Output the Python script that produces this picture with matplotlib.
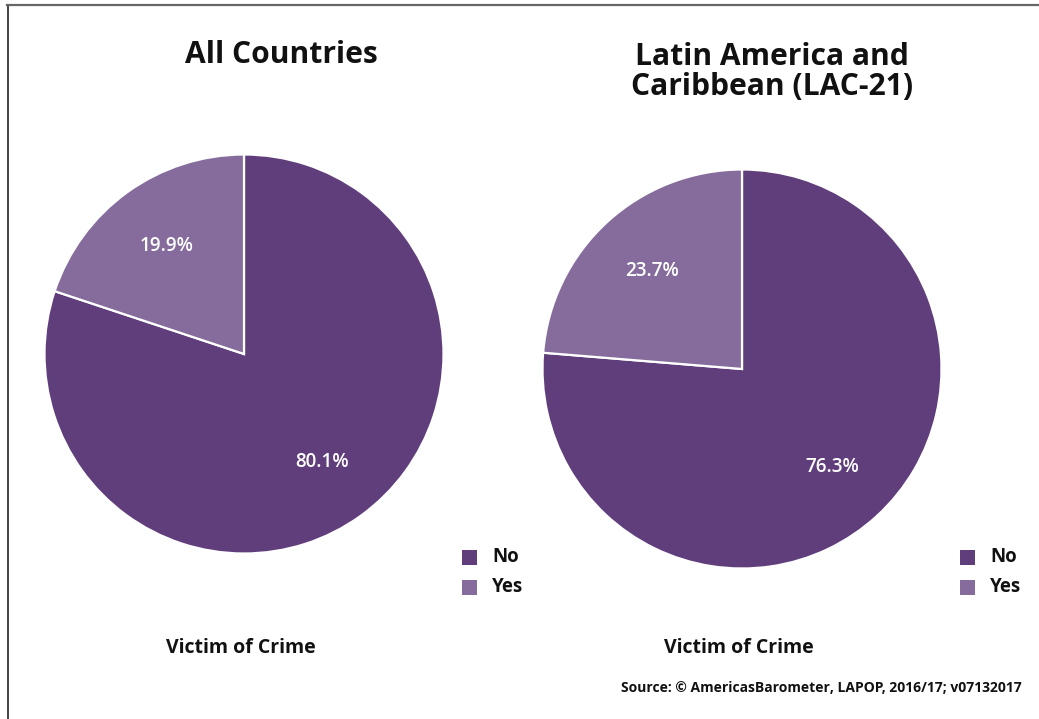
import matplotlib
matplotlib.use("Agg")
import matplotlib.pyplot as plt
from matplotlib.patches import Rectangle
from matplotlib.lines import Line2D

plt.rcParams['font.family'] = ['Open Sans', 'DejaVu Sans']

categories = ["No", "Yes"]
all_countries = [80.1, 19.9]
lac21 = [76.3, 23.7]
titles = ["All Countries", "Latin America and\nCaribbean (LAC-21)"]
xlabel = "Victim of Crime"
source = "Source: \u00a9 AmericasBarometer, LAPOP, 2016/17; v07132017"
colors = ["#603e7b", "#856c9c"]

W, H = 1039, 719
fig = plt.figure(figsize=(W / 100, H / 100), dpi=100)

def fx(px):
    return px / W

def fy(py):
    return 1 - py / H

# border (left and top)
fig.add_artist(Line2D([fx(7.5), fx(7.5)], [fy(5), fy(719)], color="#222222", lw=1.2))
fig.add_artist(Line2D([fx(7), fx(1038)], [fy(5), fy(5)], color="#666666", lw=1.6))

panels = [
    dict(data=all_countries, title=titles[0], cx=244, cy=354, r=199.5,
         tx=281, ty=55, lx=241, legx=462),
    dict(data=lac21, title=titles[1], cx=742, cy=369, r=199.5,
         tx=772, ty=72, lx=739, legx=960),
]

for p in panels:
    r = p["r"]
    ax = fig.add_axes([fx(p["cx"] - r), fy(p["cy"] + r), 2 * r / W, 2 * r / H])
    wedges, texts, autotexts = ax.pie(
        p["data"], colors=colors, startangle=90, counterclock=False,
        autopct="%.1f%%", pctdistance=0.665,
        wedgeprops=dict(edgecolor="white", linewidth=1.6),
        textprops=dict(color="white", fontsize=13.6, fontweight="semibold"))
    ax.set_xlim(-1, 1)
    ax.set_ylim(-1, 1)
    fig.text(fx(p["tx"]), fy(p["ty"]), p["title"], ha="center", va="center",
             fontsize=21.6, fontweight="bold", color="#111111", linespacing=1.03)
    fig.text(fx(p["lx"]), fy(648), xlabel, ha="center", va="center",
             fontsize=14, fontweight="bold", color="#111111")
    for i, (cat, col) in enumerate(zip(categories, colors)):
        yy = 557 + 30 * i
        fig.add_artist(Rectangle((fx(p["legx"]), fy(yy + 7.5)), 15 / W, 15 / H,
                                 facecolor=col, edgecolor="none"))
        fig.text(fx(p["legx"] + 30), fy(yy), cat, ha="left", va="center",
                 fontsize=13.5, fontweight="bold", color="#111111")

fig.text(fx(1022), fy(688), source, ha="right", va="center",
         fontsize=10, fontweight="bold", color="#111111")

fig.savefig("out.png", dpi=100)
